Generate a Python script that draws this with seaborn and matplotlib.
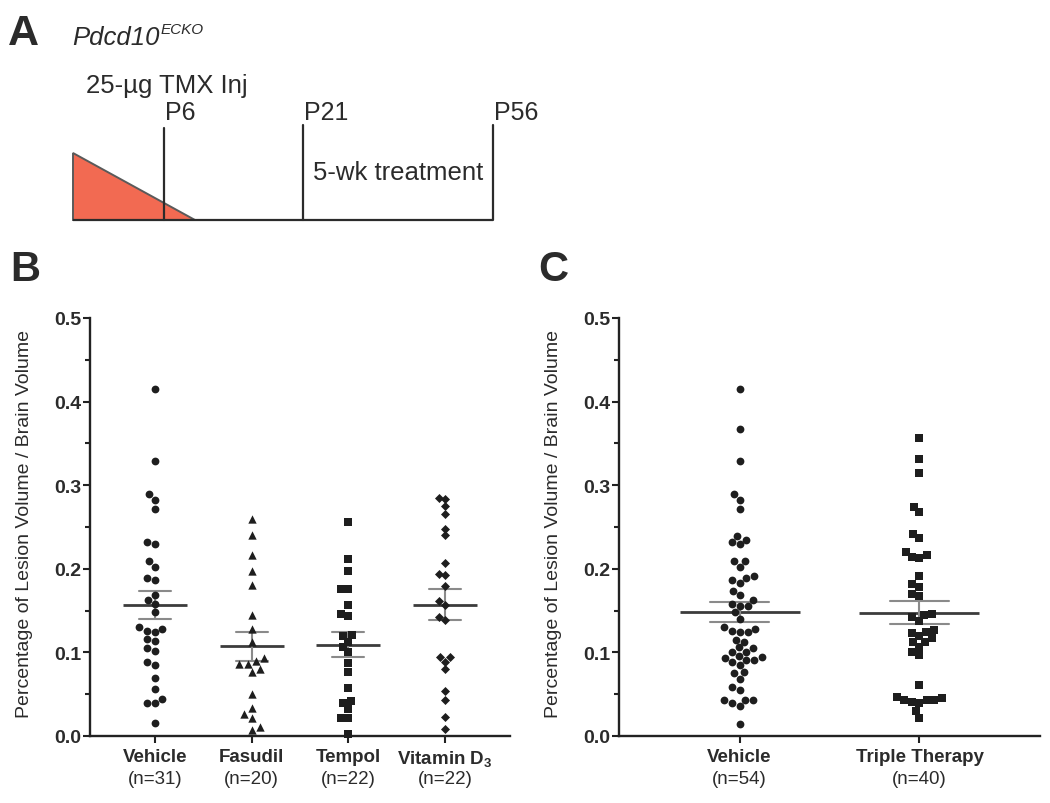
import numpy as np
import pandas as pd
import matplotlib
matplotlib.use("Agg")
import matplotlib.pyplot as plt
import matplotlib.transforms as mtransforms
from matplotlib.ticker import FormatStrFormatter
from matplotlib.patches import Polygon
import seaborn as sns

# ---------------- data ----------------
groups_B = ["Vehicle", "Fasudil", "Tempol", "Vitamin D3"]
labels_B = ["Vehicle", "Fasudil", "Tempol", r"Vitamin D$_{\mathregular{3}}$"]
vehicle_B = [0.415, 0.329, 0.289, 0.282, 0.272, 0.232, 0.230, 0.209, 0.202, 0.189,
             0.187, 0.169, 0.163, 0.158, 0.148, 0.130, 0.128, 0.126, 0.124, 0.116,
             0.114, 0.105, 0.102, 0.089, 0.085, 0.069, 0.056, 0.044, 0.039, 0.039, 0.015]
fasudil_B = [0.260, 0.240, 0.217, 0.197, 0.181, 0.145, 0.128, 0.113, 0.093, 0.090,
             0.086, 0.086, 0.080, 0.077, 0.050, 0.034, 0.026, 0.021, 0.011, 0.007]
tempol_B = [0.256, 0.212, 0.197, 0.176, 0.176, 0.157, 0.146, 0.143, 0.121, 0.120,
            0.113, 0.106, 0.100, 0.087, 0.076, 0.057, 0.042, 0.039, 0.032, 0.022,
            0.022, 0.002]
vitd_B = [0.285, 0.283, 0.275, 0.266, 0.248, 0.240, 0.207, 0.194, 0.193, 0.179,
          0.161, 0.157, 0.142, 0.139, 0.094, 0.094, 0.089, 0.080, 0.054, 0.043,
          0.023, 0.008]

groups_C = ["Vehicle", "Triple Therapy"]
vehicle_C = [0.415, 0.367, 0.329, 0.289, 0.282, 0.272, 0.239, 0.235, 0.232, 0.230,
             0.209, 0.209, 0.202, 0.191, 0.189, 0.187, 0.183, 0.174, 0.169, 0.163,
             0.158, 0.156, 0.156, 0.148, 0.140, 0.130, 0.128, 0.126, 0.124, 0.124,
             0.115, 0.113, 0.106, 0.105, 0.101, 0.101, 0.096, 0.094, 0.093, 0.091,
             0.091, 0.089, 0.085, 0.076, 0.075, 0.068, 0.059, 0.055, 0.043, 0.043,
             0.043, 0.039, 0.036, 0.014]
triple_C = [0.357, 0.331, 0.314, 0.274, 0.268, 0.242, 0.237, 0.220, 0.217, 0.214,
            0.213, 0.191, 0.182, 0.178, 0.170, 0.168, 0.146, 0.145, 0.142, 0.138,
            0.127, 0.125, 0.123, 0.120, 0.117, 0.113, 0.112, 0.107, 0.100, 0.097,
            0.061, 0.047, 0.045, 0.043, 0.043, 0.043, 0.041, 0.039, 0.030, 0.022]

ylabel = "Percentage of Lesion Volume / Brain Volume"
timepoints = ["P6", "P21", "P56"]

# ---------------- style ----------------
sns.set_theme(style="ticks")
plt.rcParams["font.family"] = ["Liberation Sans", "DejaVu Sans"]
plt.rcParams["mathtext.fontset"] = "custom"
plt.rcParams["mathtext.rm"] = "Liberation Sans"
plt.rcParams["mathtext.bf"] = "Liberation Sans:bold"
plt.rcParams["mathtext.it"] = "Liberation Sans:italic"

INK = "#1e1e1e"
AXC = "#222222"
TXT = "#2b2b2b"
MEAN_C = "#3c3c3c"
ERR_C = "#8a8a8a"

fig = plt.figure(figsize=(10.5, 8.04), dpi=100)
fig.patch.set_facecolor("white")

axB = fig.add_axes([90 / 1050, 67 / 804, 420 / 1050, 418 / 804])
axC = fig.add_axes([619 / 1050, 67 / 804, 421 / 1050, 418 / 804])


def make_df(groups, vals):
    return pd.DataFrame({
        "group": np.repeat(groups, [len(v) for v in vals]),
        "value": np.concatenate([np.asarray(v, float) for v in vals]),
    })


dfB = make_df(groups_B, [vehicle_B, fasudil_B, tempol_B, vitd_B])
dfC = make_df(groups_C, [vehicle_C, triple_C])

markers_B = ["o", "^", "s", "D"]
sizes_B = [5.6, 6.0, 5.4, 4.6]
for g, m, s in zip(groups_B, markers_B, sizes_B):
    sns.swarmplot(data=dfB[dfB.group == g], x="group", y="value", order=groups_B,
                  marker=m, size=s, color=INK, linewidth=0, ax=axB)

markers_C = ["o", "s"]
sizes_C = [5.6, 5.4]
for g, m, s in zip(groups_C, markers_C, sizes_C):
    sns.swarmplot(data=dfC[dfC.group == g], x="group", y="value", order=groups_C,
                  marker=m, size=s, color=INK, linewidth=0, ax=axC)

for ax in (axB, axC):
    for coll in ax.collections:
        coll.set_clip_on(False)

# mean +/- SEM
sns.pointplot(data=dfB, x="group", y="value", order=groups_B, errorbar="se",
              capsize=0.33, linestyle="none", marker="_", markersize=46,
              markeredgewidth=2.0, color=MEAN_C,
              err_kws={"color": ERR_C, "linewidth": 1.5}, ax=axB)
sns.pointplot(data=dfC, x="group", y="value", order=groups_C, errorbar="se",
              capsize=0.33, linestyle="none", marker="_", markersize=86,
              markeredgewidth=2.0, color=MEAN_C,
              err_kws={"color": ERR_C, "linewidth": 1.5}, ax=axC)

for ax, groups, labels, df, ncat in ((axB, groups_B, labels_B, dfB, 4),
                                     (axC, groups_C, groups_C, dfC, 2)):
    ax.set_xlim(-0.67, ncat - 1 + 0.67)
    ax.set_ylim(0, 0.5)
    ax.set_yticks(np.arange(0, 0.51, 0.1))
    ax.set_yticks(np.arange(0.05, 0.5, 0.1), minor=True)
    ax.yaxis.set_major_formatter(FormatStrFormatter("%.1f"))
    sns.despine(ax=ax)
    for sp in ("left", "bottom"):
        ax.spines[sp].set_linewidth(1.7)
        ax.spines[sp].set_color(AXC)
    ax.tick_params(axis="y", which="major", length=5, width=1.5, color=AXC,
                   labelsize=14, pad=1, labelcolor=TXT)
    ax.tick_params(axis="y", which="minor", length=3.5, width=1.5, color=AXC)
    ax.tick_params(axis="x", length=5, width=1.5, color=AXC, labelsize=13.5,
                   pad=4, labelcolor=TXT)
    ax.set_xticks(range(ncat))
    ax.set_xticklabels(labels, fontweight="bold")
    for lab in ax.get_yticklabels():
        lab.set_fontweight("bold")
    ax.set_xlabel("")
    ax.set_ylabel(ylabel, fontsize=14, color=TXT)
    ax.yaxis.set_label_coords(-0.135, 0.51)
    trans = mtransforms.blended_transform_factory(ax.transData, ax.transAxes)
    for i, g in enumerate(groups):
        n = int((df.group == g).sum())
        ax.text(i, -0.101, f"(n={n})", transform=trans, ha="center", va="center",
                fontsize=13.5, color=TXT)
    ax.set_facecolor("none")

# ---------------- panel A schematic & panel letters ----------------
ov = fig.add_axes([0, 0, 1, 1])
ov.set_xlim(0, 1050)
ov.set_ylim(804, 0)
ov.axis("off")

ov.text(8, 45, "A", fontsize=31, fontweight="bold", color=TXT, va="baseline")
ov.text(10, 281, "B", fontsize=30, fontweight="bold", color=TXT, va="baseline")
ov.text(538, 281, "C", fontsize=30, fontweight="bold", color=TXT, va="baseline")

ov.text(72, 45, "Pdcd10", fontsize=18.5, style="italic", color=TXT, va="baseline")
ov.text(161, 34, "ECKO", fontsize=11, style="italic", color=TXT, va="baseline")
ov.text(86, 93, "25-µg TMX Inj", fontsize=18.5, color=TXT, va="baseline")

ov.add_patch(Polygon([[73, 154], [73, 221], [195, 221]], closed=True,
                     facecolor="#F26A52", edgecolor="#5a5a5a", linewidth=1.4,
                     zorder=2))
ov.plot([73, 493], [221, 221], color=TXT, linewidth=1.6, zorder=3,
        solid_capstyle="butt")
tp_x = [164, 303, 493]
tp_top = [129, 126, 126]
for name, x, top in zip(timepoints, tp_x, tp_top):
    ov.plot([x, x], [top, 221], color=TXT, linewidth=1.6, zorder=3)
    ov.text(x + 1, 120, name, fontsize=18, color=TXT, va="baseline")
ov.text(313, 180, "5-wk treatment", fontsize=18.5, color=TXT, va="baseline")

fig.savefig("out.png", dpi=100, facecolor="white")
